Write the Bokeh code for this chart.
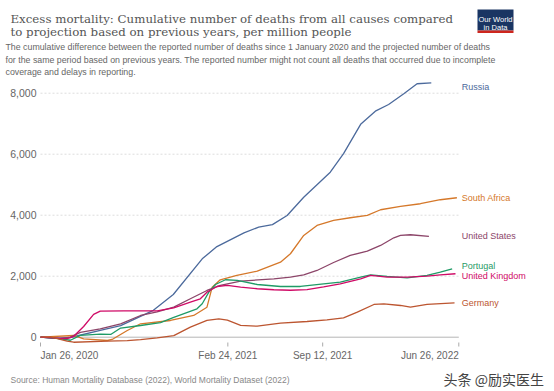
import pandas as pd
from bokeh.plotting import figure
from bokeh.models import Range1d, Label
from bokeh.embed import file_html
from bokeh.resources import INLINE

# ---------------- data ----------------
russia_dates = ["2020-01-26", "2020-02-27", "2020-03-29", "2020-05-31", "2020-07-13", "2020-09-20",
                "2020-11-01", "2021-01-01", "2021-02-01", "2021-03-30", "2021-04-30", "2021-05-29",
                "2021-06-29", "2021-08-03", "2021-09-28", "2021-10-26", "2021-12-01", "2022-01-01",
                "2022-01-29", "2022-03-02", "2022-03-30", "2022-04-29"]
russia_values = [0, -40, -10, 220, 380, 880, 1400, 2570, 2970, 3420, 3610, 3690, 3990, 4590, 5410,
                 6020, 6980, 7410, 7630, 7980, 8310, 8340]

south_africa_dates = ["2020-01-26", "2020-04-05", "2020-04-26", "2020-06-15", "2020-06-25", "2020-07-27",
                      "2020-08-24", "2020-10-26", "2020-12-14", "2021-01-11", "2021-01-22", "2021-02-08",
                      "2021-03-15", "2021-04-27", "2021-06-15", "2021-07-06", "2021-08-03", "2021-08-31",
                      "2021-10-05", "2021-11-09", "2021-12-15", "2022-01-12", "2022-02-23", "2022-04-06",
                      "2022-05-18", "2022-06-22"]
south_africa_values = [0, 56, -52, -108, -75, 220, 440, 548, 712, 984, 1640, 1883, 2024, 2165, 2460,
                       2736, 3336, 3664, 3828, 3916, 3992, 4179, 4287, 4376, 4507, 4572]

united_states_dates = ["2020-01-26", "2020-03-08", "2020-03-29", "2020-04-19", "2020-05-31", "2020-07-13",
                       "2020-08-24", "2020-09-28", "2020-11-02", "2020-12-07", "2021-01-11", "2021-02-08",
                       "2021-03-23", "2021-06-01", "2021-07-06", "2021-08-03", "2021-08-31", "2021-10-05",
                       "2021-11-09", "2021-12-15", "2022-01-12", "2022-02-09", "2022-02-23", "2022-03-16",
                       "2022-04-24"]
united_states_values = [0, -50, 0, 160, 275, 440, 712, 830, 984, 1260, 1532, 1696, 1837, 1915, 1968,
                        2040, 2188, 2450, 2680, 2821, 3008, 3260, 3336, 3359, 3303]

portugal_dates = ["2020-01-26", "2020-03-01", "2020-03-29", "2020-04-19", "2020-05-31", "2020-06-22",
                  "2020-07-13", "2020-08-24", "2020-10-05", "2020-11-02", "2020-12-21", "2021-01-01",
                  "2021-01-15", "2021-01-29", "2021-02-19", "2021-03-16", "2021-04-27", "2021-06-15",
                  "2021-07-27", "2021-09-14", "2021-10-19", "2021-12-01", "2021-12-22", "2022-01-26",
                  "2022-03-09", "2022-04-20", "2022-05-18", "2022-06-12"]
portugal_values = [0, -40, -100, 60, 100, 90, 300, 384, 480, 650, 930, 1095, 1476, 1728, 1883, 1860,
                   1728, 1663, 1663, 1751, 1804, 1968, 2046, 1991, 1948, 2024, 2132, 2244]

united_kingdom_dates = ["2020-01-26", "2020-03-01", "2020-03-22", "2020-04-05", "2020-04-26", "2020-05-17",
                        "2020-05-31", "2020-07-20", "2020-09-28", "2020-11-02", "2020-12-07", "2020-12-28",
                        "2021-01-11", "2021-02-01", "2021-02-23", "2021-03-23", "2021-04-27", "2021-06-01",
                        "2021-07-06", "2021-08-10", "2021-09-14", "2021-10-19", "2021-12-01", "2021-12-22",
                        "2022-01-26", "2022-03-09", "2022-04-20", "2022-05-18", "2022-06-19"]
united_kingdom_values = [0, -30, -50, 30, 350, 750, 853, 860, 860, 964, 1148, 1260, 1476, 1663, 1696,
                         1640, 1588, 1555, 1540, 1560, 1650, 1751, 1915, 2024, 1968, 1968, 2000, 2046, 2080]

germany_dates = ["2020-01-26", "2020-02-16", "2020-03-22", "2020-04-05", "2020-06-15", "2020-07-27",
                 "2020-08-24", "2020-09-28", "2020-11-02", "2020-12-07", "2021-01-11", "2021-02-05",
                 "2021-02-23", "2021-03-23", "2021-04-27", "2021-06-15", "2021-08-10", "2021-09-21",
                 "2021-10-26", "2021-11-24", "2021-12-29", "2022-01-19", "2022-02-23", "2022-03-16",
                 "2022-04-20", "2022-06-17"]
germany_values = [0, 10, -130, -165, -130, -110, -80, -20, 50, 330, 550, 600, 560, 390, 360, 460, 515,
                  570, 636, 820, 1073, 1095, 1040, 984, 1073, 1128]

tick_dates = ["2020-01-26", "2021-02-24", "2021-09-12", "2022-06-26"]
tick_labels = ["Jan 26, 2020", "Feb 24, 2021", "Sep 12, 2021", "Jun 26, 2022"]
y_ticks = [0, 2000, 4000, 6000, 8000]
y_tick_labels = ["0", "2,000", "4,000", "6,000", "8,000"]

series = [
    ("Russia", russia_dates, russia_values, "#4C6A9C"),
    ("South Africa", south_africa_dates, south_africa_values, "#D5782A"),
    ("United States", united_states_dates, united_states_values, "#8C4569"),
    ("Portugal", portugal_dates, portugal_values, "#1F9B66"),
    ("United Kingdom", united_kingdom_dates, united_kingdom_values, "#CF0A66"),
    ("Germany", germany_dates, germany_values, "#BC5530"),
]
label_nudge = {"Russia": -4, "Portugal": 3, "United Kingdom": -2}   # px, to avoid overlaps

title_lines = ["Excess mortality: Cumulative number of deaths from all causes compared",
               "to projection based on previous years, per million people"]
subtitle_lines = ["The cumulative difference between the reported number of deaths since 1 January 2020 and the projected number of deaths",
                  "for the same period based on previous years. The reported number might not count all deaths that occurred due to incomplete",
                  "coverage and delays in reporting."]
source_text = "Source: Human Mortality Database (2022), World Mortality Dataset (2022)"
watermark = "头条 @励实医生"

# ---------------- layout (canvas pixels) ----------------
W, H = 554, 391
PLOT_LEFT, PLOT_RIGHT = 40.0, 458.3      # x pixel of first / last tick date
Y_ZERO_PX, Y_TOP_TICK_PX = 336.7, 92.7   # y pixel of 0 and of the top tick value


def ms(d):
    return pd.Timestamp(d).timestamp() * 1000.0


t0, t1 = ms(tick_dates[0]), ms(tick_dates[-1])
ms_per_px = (t1 - t0) / (PLOT_RIGHT - PLOT_LEFT)
val_per_px = y_ticks[-1] / (Y_ZERO_PX - Y_TOP_TICK_PX)
x_range = Range1d(t0 - PLOT_LEFT * ms_per_px, t0 + (W - PLOT_LEFT) * ms_per_px)
y_range = Range1d(-(H - Y_ZERO_PX) * val_per_px, Y_ZERO_PX * val_per_px)


def px_x(px):
    return t0 + (px - PLOT_LEFT) * ms_per_px


def px_y(py):
    return (Y_ZERO_PX - py) * val_per_px


p = figure(width=W, height=H, x_axis_type="datetime", output_backend="svg", toolbar_location=None,
           x_range=x_range, y_range=y_range, min_border=0,
           background_fill_color="white", border_fill_color="white")
p.outline_line_color = None
p.axis.visible = False
p.grid.visible = False

# grid lines (dotted) and zero line
p.segment(x0=[t0] * 4, x1=[t1] * 4, y0=y_ticks[1:], y1=y_ticks[1:],
          line_color="#dddddd", line_dash="2 2", line_width=1)
p.segment(x0=[t0], x1=[t1], y0=[0], y1=[0], line_color="#b5b5b5", line_width=1)

# y tick labels
p.text(x=[t0] * len(y_ticks), y=y_ticks, text=y_tick_labels, x_offset=-4,
       text_align="right", text_baseline="middle", text_font_size="10.5px",
       text_color="#666666", text_font={"value": "Liberation Sans"})

# x ticks
tick_ms = [ms(d) for d in tick_dates]
p.segment(x0=tick_ms, x1=tick_ms, y0=[px_y(342)] * 4, y1=[px_y(346)] * 4,
          line_color="#aaaaaa", line_width=1)
aligns = ["left", "center", "center", "right"]
for tx, t, a in zip(tick_ms, tick_labels, aligns):
    p.add_layout(Label(x=tx, y=px_y(355), text=t, text_align=a, text_baseline="alphabetic",
                       text_font="Liberation Sans", text_font_size="10px", text_color="#666666"))

# series lines and end labels
for name, dates, vals, color in series:
    p.line([ms(d) for d in dates], vals, line_color=color, line_width=1.3)
    p.add_layout(Label(x=t1, y=vals[-1], x_offset=3, y_offset=label_nudge.get(name, 0),
                       text=name, text_color=color, text_font="Liberation Sans",
                       text_font_size="9px", text_baseline="middle", text_align="left"))

# header
for i, t in enumerate(title_lines):
    p.add_layout(Label(x=px_x(10), y=px_y(18 + i * 13.5), text=t,
                       text_font="DejaVu Serif", text_font_size="11.8px", text_color="#555555",
                       text_baseline="alphabetic"))
for i, t in enumerate(subtitle_lines):
    p.add_layout(Label(x=px_x(5), y=px_y(46.5 + i * 12.7), text=t,
                       text_font="Liberation Sans", text_font_size="8.8px", text_color="#666666",
                       text_baseline="alphabetic"))

# footer
p.add_layout(Label(x=px_x(10), y=px_y(379), text=source_text,
                   text_font="Liberation Sans", text_font_size="8.5px", text_color="#888888",
                   text_baseline="alphabetic"))
p.add_layout(Label(x=px_x(443), y=px_y(378), text=watermark,
                   text_font="Noto Sans CJK SC", text_font_size="14px", text_color="#444444",
                   text_baseline="alphabetic"))

# logo
p.quad(left=[px_x(477)], right=[px_x(513)], top=[px_y(9)], bottom=[px_y(30)],
       fill_color="#1a3563", line_color=None)
p.quad(left=[px_x(477)], right=[px_x(513)], top=[px_y(30)], bottom=[px_y(32.5)],
       fill_color="#ce261e", line_color=None)
p.add_layout(Label(x=px_x(495), y=px_y(18.5), text="Our World", text_align="center",
                   text_baseline="alphabetic", text_font="Liberation Sans", text_font_size="7.5px",
                   text_color="white"))
p.add_layout(Label(x=px_x(495), y=px_y(26.5), text="in Data", text_align="center",
                   text_baseline="alphabetic", text_font="Liberation Sans", text_font_size="7.5px",
                   text_color="white"))

open("out.html", "w").write(file_html(p, INLINE))
